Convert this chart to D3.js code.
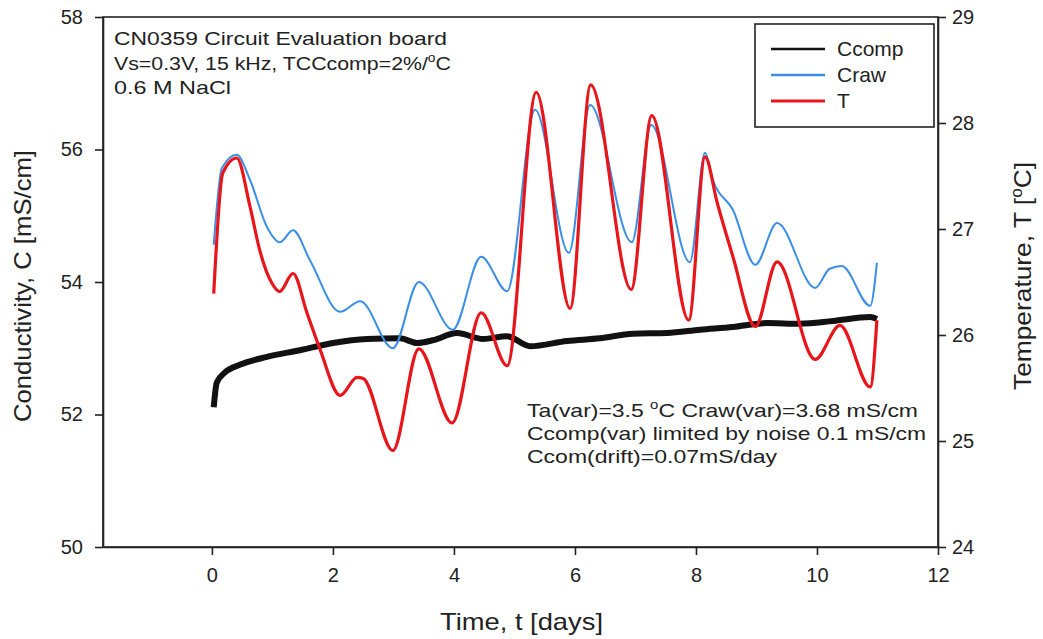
<!DOCTYPE html>
<meta charset="utf-8">
<style>
body { margin: 0; background: #fff; }
svg { font-family: "Liberation Sans", Arial, sans-serif; }
.axis text { font-size: 20px; fill: #222; }
.axis path, .axis line { stroke: #222; stroke-width: 1.6px; }
.note { font-size: 19px; fill: #222; }
</style>
<body>
<script src="https://cdn.jsdelivr.net/npm/d3@7"></script>
<script>

// values: [time in days, value]
var ccomp = [[0.03,52.11],[0.08,52.48],[0.21,52.63],[0.46,52.75],[0.91,52.87],[1.45,52.97],
  [2.0,53.08],[2.56,53.14],[3.11,53.15],[3.39,53.08],[3.65,53.12],[4.05,53.23],[4.48,53.14],
  [4.88,53.18],[5.26,53.03],[5.87,53.11],[6.41,53.15],[6.96,53.22],[7.52,53.23],[8.07,53.28],
  [8.61,53.32],[9.17,53.38],[9.72,53.37],[10.26,53.41],[10.88,53.47],[10.99,53.44]];

var craw = [[0.03,54.56],[0.165,55.72],[0.41,55.92],[0.63,55.54],[0.91,54.83],[1.12,54.60],
  [1.34,54.78],[1.62,54.33],[2.12,53.55],[2.45,53.71],[2.99,53.00],[3.42,54.00],[3.98,53.28],
  [4.45,54.38],[4.88,53.86],[5.34,56.60],[5.90,54.44],[6.25,56.67],[6.94,54.60],[7.26,56.37],
  [7.90,54.30],[8.15,55.95],[8.28,55.54],[8.61,55.09],[8.98,54.26],[9.34,54.89],[9.97,53.91],
  [10.21,54.20],[10.41,54.24],[10.88,53.64],[10.99,54.29]];

var temp = [[0.03,26.39],[0.18,27.53],[0.41,27.67],[0.63,27.21],[0.79,26.80],[0.99,26.49],
  [1.12,26.41],[1.34,26.58],[1.57,26.21],[1.79,25.86],[2.12,25.43],[2.40,25.60],[2.50,25.59],
  [2.99,24.91],[3.42,25.87],[3.97,25.17],[4.45,26.21],[4.88,25.71],[5.36,28.29],[5.92,26.25],
  [6.26,28.36],[6.93,26.43],[7.27,28.07],[7.88,26.14],[8.15,27.68],[8.35,27.25],[8.61,26.74],
  [8.98,26.08],[9.34,26.69],[9.97,25.77],[10.38,26.09],[10.88,25.51],[10.99,26.14]];

var xTicks = [0, 2, 4, 6, 8, 10, 12];
var cTicks = [50, 52, 54, 56, 58];
var tTicks = [24, 25, 26, 27, 28, 29];
var legendNames = ["Ccomp", "Craw", "T"];
var legendColors = ["#111", "#3a8fe6", "#e8161b"];

var W = 1043, H = 639;
var mLeft = 103, mRight = 938, mTop = 17, mBottom = 547;

var svg = d3.select("body").append("svg")
    .attr("width", W).attr("height", H);

var x = d3.scaleLinear().domain([-1.8, 12]).range([mLeft, mRight]);
var yC = d3.scaleLinear().domain([50, 58]).range([mBottom, mTop]);
var yT = d3.scaleLinear().domain([24, 29]).range([mBottom, mTop]);

// frame
svg.append("rect")
    .attr("x", mLeft).attr("y", mTop)
    .attr("width", mRight - mLeft).attr("height", mBottom - mTop)
    .attr("fill", "none").attr("stroke", "#222").attr("stroke-width", 1.6);

svg.append("g").attr("class", "axis")
    .attr("transform", "translate(0," + mBottom + ")")
    .call(d3.axisBottom(x).tickValues(xTicks).tickFormat(d3.format("d"))
      .tickSize(8).tickPadding(13).tickSizeOuter(0));

svg.append("g").attr("class", "axis")
    .attr("transform", "translate(" + mLeft + ",0)")
    .call(d3.axisLeft(yC).tickValues(cTicks).tickFormat(d3.format("d"))
      .tickSize(8).tickPadding(12).tickSizeOuter(0));

svg.append("g").attr("class", "axis")
    .attr("transform", "translate(" + mRight + ",0)")
    .call(d3.axisRight(yT).tickValues(tTicks).tickFormat(d3.format("d"))
      .tickSize(8).tickPadding(6).tickSizeOuter(0));

// lines
var lineC = d3.line().x(d => x(d[0])).y(d => yC(d[1])).curve(d3.curveMonotoneX);
var lineT = d3.line().x(d => x(d[0])).y(d => yT(d[1])).curve(d3.curveMonotoneX);

svg.append("path").datum(ccomp).attr("d", lineC)
    .attr("fill", "none").attr("stroke", legendColors[0])
    .attr("stroke-width", 6).attr("stroke-linejoin", "round");

svg.append("path").datum(craw).attr("d", lineC)
    .attr("fill", "none").attr("stroke", legendColors[1]).attr("stroke-width", 2);

svg.append("path").datum(temp).attr("d", lineT)
    .attr("fill", "none").attr("stroke", legendColors[2]).attr("stroke-width", 3.2);

// legend
var lg = svg.append("g");
lg.append("rect").attr("x", 755).attr("y", 24).attr("width", 179).attr("height", 103)
    .attr("fill", "#fff").attr("stroke", "#222").attr("stroke-width", 1.6);
legendNames.forEach(function(name, i) {
  var yy = 49 + i * 26;
  lg.append("line").attr("x1", 771).attr("x2", 825).attr("y1", yy).attr("y2", yy)
      .attr("stroke", legendColors[i]).attr("stroke-width", i == 2 ? 3 : 2.5);
  lg.append("text").attr("x", 837).attr("y", yy + 7).attr("font-size", 21).attr("fill", "#222")
      .text(name);
});

// notes; an object part {deg: "o", after: "..."} gives a raised degree mark
function note(xx, yy, len, parts) {
  var t = svg.append("text").attr("class", "note").attr("x", xx).attr("y", yy)
      .attr("textLength", len).attr("lengthAdjust", "spacingAndGlyphs");
  parts.forEach(function(p) {
    if (typeof p === "string") {
      t.append("tspan").text(p);
    } else {
      t.append("tspan").attr("dy", -8).attr("font-size", "0.65em").text(p.deg);
      t.append("tspan").attr("dy", 8).text(p.after);
    }
  });
  return t;
}

note(114, 45, 333, ["CN0359 Circuit Evaluation board"]);
note(114, 70, 337, ["Vs=0.3V, 15 kHz, TCCcomp=2%/", {deg: "o", after: "C"}]);
note(114, 94, 117, ["0.6 M NaCl"]);

note(527, 417, 391, ["Ta(var)=3.5 ", {deg: "o", after: "C Craw(var)=3.68 mS/cm"}]);
note(527, 440, 399, ["Ccomp(var) limited by noise 0.1 mS/cm"]);
note(527, 463, 250, ["Ccom(drift)=0.07mS/day"]);

// axis titles
svg.append("text").attr("x", 440).attr("y", 630)
    .attr("font-size", 24).attr("fill", "#222")
    .attr("textLength", 163).attr("lengthAdjust", "spacingAndGlyphs")
    .text("Time, t [days]");

svg.append("text").attr("transform", "translate(31,286) rotate(-90)")
    .attr("text-anchor", "middle").attr("font-size", 24).attr("fill", "#222")
    .attr("textLength", 272).attr("lengthAdjust", "spacingAndGlyphs")
    .text("Conductivity, C [mS/cm]");

var rt = svg.append("text").attr("transform", "translate(1031,276) rotate(-90)")
    .attr("text-anchor", "middle").attr("font-size", 24).attr("fill", "#222")
    .attr("textLength", 228).attr("lengthAdjust", "spacingAndGlyphs");
rt.append("tspan").text("Temperature, T [");
rt.append("tspan").attr("dy", -9).attr("font-size", "0.65em").text("o");
rt.append("tspan").attr("dy", 9).text("C]");

</script>
</body>
